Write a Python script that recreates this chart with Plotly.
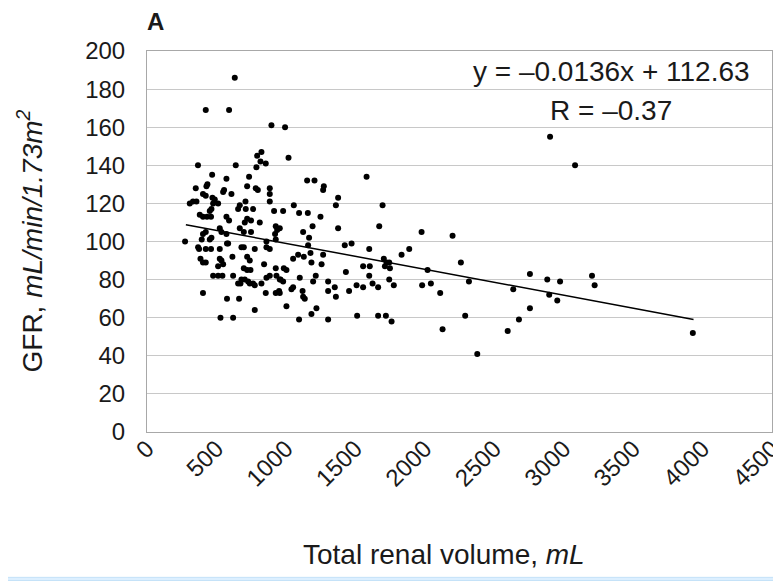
import plotly.graph_objects as go

# Total renal volume (mL) and GFR (mL/min/1.73m2)
volume = [632, 423, 591, 896, 994, 367, 639, 793, 824, 788, 817, 855, 1019,
          2902, 3082, 2882, 2974, 3204, 3223, 2896, 2954, 2757, 3930,
          1977, 2200, 1833, 1888, 2020, 2260, 1777, 1981, 2044, 2318, 2111,
          2757, 2637, 2678, 2597, 2291, 2128, 1761, 2378,
          469, 572, 735, 351, 435, 428, 555, 548, 721, 783, 798, 884, 403, 423,
          608, 884, 471, 488, 308, 331, 356, 476, 512, 709, 884, 464, 452, 668,
          656, 711, 764, 915, 980, 380, 403, 432, 461, 572, 591, 721, 704, 749,
          812, 927, 937, 922, 524, 536, 572, 668, 697, 749, 403, 423, 464, 452,
          274, 394, 576, 860, 927, 697, 776, 860, 368, 375, 423, 461, 524, 584,
          680, 884, 385, 403, 423, 524, 536, 548, 615, 721, 740, 843, 927, 512,
          697, 721, 745, 476, 512, 543, 620, 680, 656, 673, 704, 728, 740, 764,
          776, 824, 860, 884, 932, 961, 403, 576, 663, 855, 927, 951, 1004, 776,
          529, 620,
          1581, 1153, 1206, 1273, 1268, 1376, 1360, 1696, 1057, 1095, 1158, 1249,
          956, 1192, 1124, 1376, 1672, 1167, 1424, 1473, 1600,
          1160, 1052, 1088, 1129, 1177, 1268, 1184, 1257, 985, 1004, 1432, 1556,
          1604, 1600, 1705, 1725, 1744, 1713, 1749, 956, 980, 1100, 1196, 1215,
          1304, 1052, 1040, 1120, 1304, 1352, 1360, 1455, 1509, 1556, 1624, 1664,
          1744, 956, 1124, 1136, 1220, 1184, 1095, 1304, 1513, 1664, 1720]
gfr = [186, 169, 169, 161, 160, 140, 140, 145, 147, 139, 142, 141, 144,
       155, 140, 80, 79, 82, 77, 72, 69, 65, 52,
       105, 103, 93, 96, 85, 89, 77, 77, 78, 79, 73,
       83, 75, 59, 53, 61, 54, 58, 41,
       135, 133, 134, 128, 130, 129, 127, 126, 129, 128, 127, 128, 125, 124,
       125, 125, 123, 122, 120, 121, 121, 120, 120, 121, 121, 117, 116, 119,
       117, 117, 117, 116, 116, 114, 113, 113, 113, 113, 111, 112, 110, 111,
       110, 108, 106, 104, 107, 105, 104, 107, 105, 105, 104, 105, 102, 101,
       100, 101, 99, 100, 101, 97, 96, 97, 97, 96, 96, 96, 96, 99,
       97, 96, 91, 89, 89, 91, 90, 88, 92, 92, 90, 88, 86, 87,
       86, 85, 85, 82, 82, 82, 82, 80, 78, 78, 80, 79, 78, 78,
       77, 78, 81, 82, 82, 80, 73, 70, 70, 73, 73, 74, 66, 64,
       60, 60,
       134, 132, 132, 129, 127, 123, 119, 119, 119, 115, 115, 113,
       107, 108, 105, 107, 108, 102, 98, 99, 96,
       98, 91, 93, 92, 94, 93, 89, 88, 86, 85, 84, 87,
       87, 82, 91, 89, 89, 87, 86, 80, 79, 81, 79, 82,
       79, 76, 75, 74, 74, 76, 71, 74, 77, 76, 78, 76,
       80, 73, 71, 70, 65, 62, 59, 59, 61, 61, 61]

# Trendline as printed on the chart
slope = -0.0136
intercept = 112.63
trend_x = [280, 3935]
trend_y = [slope * v + intercept for v in trend_x]

x_ticks = [0, 500, 1000, 1500, 2000, 2500, 3000, 3500, 4000, 4500]
y_ticks = [0, 20, 40, 60, 80, 100, 120, 140, 160, 180, 200]

FONT = "Liberation Sans, Arial, Helvetica, sans-serif"
TXT = "#1a1a1a"

fig = go.Figure()
fig.add_trace(go.Scatter(x=volume, y=gfr, mode="markers",
                         marker=dict(color="black", size=6, symbol="circle"),
                         showlegend=False, hoverinfo="x+y"))
fig.add_trace(go.Scatter(x=trend_x, y=trend_y, mode="lines",
                         line=dict(color="black", width=1.5),
                         showlegend=False, hoverinfo="skip"))

# The page body adds an 8px offset, so the figure is 8px smaller.
fig.update_layout(
    width=773, height=573,
    margin=dict(l=139, r=9, t=43, b=149, autoexpand=False),
    paper_bgcolor="white", plot_bgcolor="white",
    font=dict(family=FONT, size=24, color=TXT),
    xaxis=dict(range=[0, 4500], tickvals=x_ticks, tickangle=-45,
               automargin=False, ticklabeloverflow="allow",
               ticklabelstandoff=-8,
               showgrid=False, zeroline=False,
               showline=True, linecolor="#a8a8a8", linewidth=1, mirror=True,
               ticks="", tickfont=dict(size=24)),
    yaxis=dict(range=[0, 200], tickvals=y_ticks,
               automargin=False,
               showgrid=True, gridcolor="#c8c8c8", gridwidth=1,
               zeroline=False,
               showline=True, linecolor="#a8a8a8", linewidth=1, mirror=True,
               ticks="outside", ticklen=16, tickcolor="rgba(0,0,0,0)",
               tickfont=dict(size=24)),
    annotations=[
        dict(text="<b>A</b>", xref="paper", yref="paper", x=-0.004, y=1.078,
             xanchor="left", yanchor="middle", showarrow=False,
             font=dict(size=24, family=FONT, color=TXT)),
        dict(text="y = \u20130.0136x + 112.63", xref="x", yref="y", x=3341, y=189,
             xanchor="center", yanchor="middle", showarrow=False,
             font=dict(size=28)),
        dict(text="R = \u20130.37", xref="x", yref="y", x=3341, y=169,
             xanchor="center", yanchor="middle", showarrow=False,
             font=dict(size=28)),
        dict(text="Total renal volume, <i>mL</i>", xref="paper", yref="paper",
             x=(444 - 147) / 625, y=-(555 - 432.3) / 381.6,
             xanchor="center", yanchor="middle", showarrow=False,
             font=dict(size=28)),
        dict(text="GFR, <i>mL/min/1.73m<sup>2</sup></i>", xref="paper", yref="paper",
             x=-(147 - 30) / 625, y=0.5, textangle=-90,
             xanchor="center", yanchor="middle", showarrow=False,
             font=dict(size=28)),
    ],
    shapes=[dict(type="rect", xref="paper", yref="paper", x0=-0.3, x1=1.1,
                 y0=-0.3897, y1=-0.3815, fillcolor="#dcefff",
                 line=dict(color="#c4e2f8", width=1), layer="below")],
)

fig.write_html("out.html")
